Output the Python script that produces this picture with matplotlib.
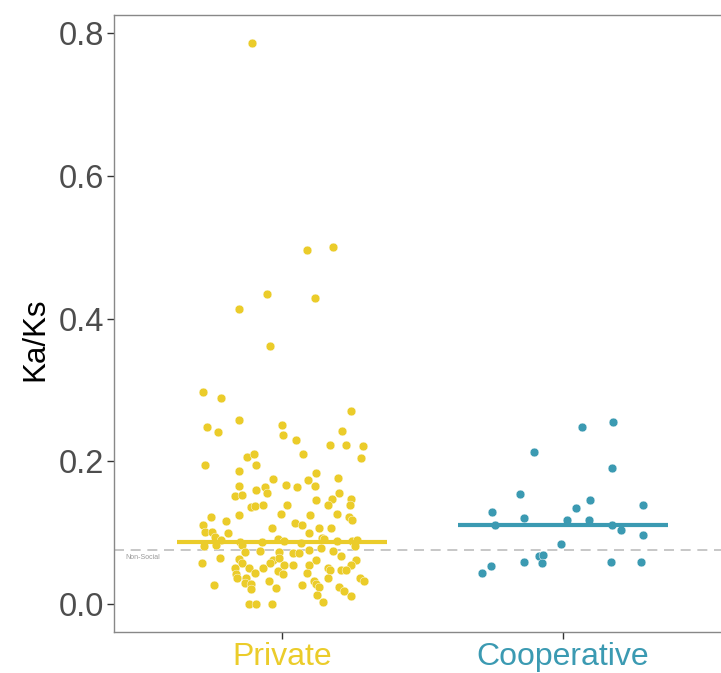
import matplotlib
matplotlib.use("Agg")
import matplotlib.pyplot as plt

plt.rcParams['font.family'] = ['Liberation Sans', 'DejaVu Sans']

groups = ['Private', 'Cooperative']
group_colors = ['#EBCC2A', '#3B9AB2']

# Ka/Ks values and their horizontal jitter (category units)
private_y = [0.786, 0.496, 0.500, 0.435, 0.429, 0.413, 0.362,
             0.297, 0.289, 0.258, 0.251, 0.270, 0.248, 0.241, 0.237, 0.230, 0.243,
             0.223, 0.223, 0.221, 0.210, 0.206, 0.210, 0.195, 0.204, 0.195,
             0.186, 0.184, 0.175, 0.173, 0.177, 0.166, 0.164, 0.165, 0.165, 0.159,
             0.164, 0.155, 0.151, 0.152, 0.156, 0.147, 0.145, 0.147, 0.138, 0.139,
             0.136, 0.137, 0.139, 0.138, 0.122, 0.124, 0.116, 0.126, 0.124, 0.126,
             0.122, 0.118, 0.113, 0.111, 0.110, 0.101, 0.101, 0.106, 0.107, 0.106,
             0.099, 0.099, 0.094, 0.090, 0.091, 0.093, 0.091, 0.088, 0.088,
             0.087, 0.088, 0.086, 0.089, 0.087,
             0.081, 0.082, 0.082, 0.074, 0.073, 0.073, 0.078, 0.074, 0.075, 0.081,
             0.072, 0.072, 0.057, 0.064, 0.063, 0.058, 0.062, 0.065, 0.057, 0.061,
             0.067, 0.062, 0.051, 0.050, 0.050, 0.054, 0.055, 0.055, 0.051, 0.055,
             0.044, 0.042, 0.046, 0.042, 0.044, 0.048, 0.047, 0.048, 0.036, 0.037,
             0.032, 0.032, 0.036, 0.036, 0.032, 0.027, 0.029, 0.028, 0.027, 0.028,
             0.024, 0.021, 0.023, 0.024, 0.018, 0.012, 0.011, 0.003, 0.000, 0.000,
             0.000]
private_dx = [-0.107, 0.087, 0.181, -0.055, 0.117, -0.154, -0.044,
              -0.283, -0.219, -0.155, -0.002, 0.245, -0.267, -0.230, 0.002, 0.049, 0.212,
              0.170, 0.229, 0.288, 0.074, -0.127, -0.102, -0.095, 0.280, -0.277,
              -0.155, 0.119, -0.032, 0.090, 0.200, 0.012, 0.054, 0.118, -0.155, -0.093,
              -0.062, -0.054, -0.169, -0.145, 0.201, 0.176, 0.120, 0.245, 0.164, 0.243,
              -0.112, -0.099, -0.068, 0.017, -0.254, -0.156, -0.201, -0.004, 0.098, 0.194,
              0.239, 0.250, 0.044, 0.070, -0.283, -0.275, -0.251, -0.037, 0.130, 0.174,
              -0.194, 0.095, -0.239, -0.218, -0.014, 0.143, 0.150, 0.195, 0.248,
              -0.072, 0.005, 0.065, 0.265, -0.150,
              -0.280, -0.237, -0.143, -0.080, -0.133, -0.013, 0.138, 0.182, 0.094, 0.261,
              0.037, 0.061, -0.288, -0.223, -0.154, -0.145, -0.032, -0.011, -0.043, 0.120,
              0.211, 0.262, -0.118, -0.167, -0.068, 0.007, 0.037, 0.096, 0.163, 0.244,
              -0.096, -0.165, -0.014, 0.004, 0.089, 0.170, 0.211, 0.227, -0.163, -0.130,
              -0.049, 0.112, 0.164, 0.276, 0.292, -0.243, -0.133, -0.110, 0.071, 0.119,
              0.131, -0.110, -0.023, 0.203, 0.221, 0.124, 0.245, 0.146, -0.119, -0.093,
              -0.036]

coop_y = [0.255, 0.248, 0.213, 0.190, 0.154, 0.146, 0.135, 0.139, 0.129, 0.121,
          0.117, 0.118, 0.111, 0.111, 0.104, 0.097, 0.084, 0.067, 0.068, 0.057,
          0.059, 0.059, 0.059, 0.053, 0.044]
coop_dx = [0.179, 0.069, -0.101, 0.176, -0.151, 0.096, 0.046, 0.288, -0.251, -0.138,
           0.015, 0.093, -0.242, 0.175, 0.208, 0.285, -0.005, -0.083, -0.070, -0.073,
           -0.137, 0.172, 0.278, -0.256, -0.289]

medians = [0.087, 0.111]
non_social = 0.0757

fig = plt.figure(figsize=(7.21, 6.73), dpi=100)
ax = fig.add_axes([114 / 721, 41 / 673, 617 / 721, 617 / 673])

series = [(private_y, private_dx), (coop_y, coop_dx)]
for i, (ys, dxs) in enumerate(series):
    pos = i + 1
    ax.scatter([pos + d for d in dxs], ys, s=40, color=group_colors[i],
               edgecolors='white', linewidths=0.3, zorder=3)
    ax.plot([pos - 0.375, pos + 0.375], [medians[i], medians[i]],
            color=group_colors[i], lw=3, solid_capstyle='butt', zorder=4)

ax.axhline(non_social, color='#BEBEBE', lw=1.2, ls=(0, (6, 4)), zorder=2)
ax.text(0.44, non_social - 0.01, 'Non-Social', fontsize=5, color='#999999',
        ha='left', va='center')

ax.set_xlim(0.4, 2.6)
ax.set_ylim(-0.0393, 0.8253)
ax.set_xticks([1, 2])
ax.set_xticklabels(groups, fontsize=23)
for lbl, c in zip(ax.get_xticklabels(), group_colors):
    lbl.set_color(c)
ax.set_yticks([0.0, 0.2, 0.4, 0.6, 0.8])
ax.set_yticklabels(['0.0', '0.2', '0.4', '0.6', '0.8'], fontsize=23.5, color='#4D4D4D')
ax.set_ylabel('Ka/Ks', fontsize=22.5, color='black')
ax.yaxis.set_label_coords(-0.103, 0.475)
ax.tick_params(axis='both', color='#333333', length=5, width=1, pad=2)

for side in ['left', 'bottom', 'top', 'right']:
    ax.spines[side].set_color('#888888')
    ax.spines[side].set_linewidth(1)

fig.savefig('out.png', dpi=100)
